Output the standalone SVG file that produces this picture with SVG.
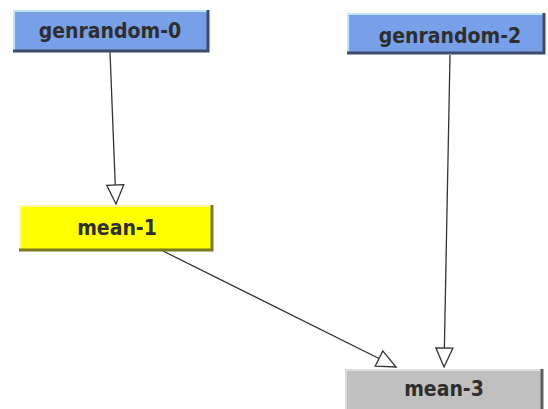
<svg xmlns="http://www.w3.org/2000/svg" width="548" height="409" viewBox="0 0 548 409">
  <style>
    .label { font-family: "DejaVu Sans Condensed", "DejaVu Sans", "Liberation Sans", sans-serif; font-stretch: condensed; font-weight: bold; font-size: 21px; fill: #2e2e2e; text-anchor: middle; }
    .edge { stroke: #333; stroke-width: 1.3; fill: none; }
    .hi { fill: none; stroke-width: 2; }
    .sh { fill: none; stroke-width: 3; }
  </style>
  <defs>
    <marker id="hollow" markerUnits="userSpaceOnUse" markerWidth="24" markerHeight="24" refX="20" refY="9" orient="auto" viewBox="0 0 24 18">
      <path d="M1,0.5 L20,9 L1,17.5 Z" fill="#fff" stroke="#333" stroke-width="1.3"/>
    </marker>
  </defs>
  <rect width="548" height="409" fill="#fff"/>

  <g id="connectors">
    <line class="edge" x1="110" y1="52" x2="116" y2="204" marker-end="url(#hollow)"/>
    <line class="edge" x1="450" y1="55" x2="444" y2="367" marker-end="url(#hollow)"/>
    <line class="edge" x1="163" y1="251" x2="396" y2="367" marker-end="url(#hollow)"/>
  </g>

  <g id="genrandom-0">
    <rect x="13" y="10" width="196" height="42" fill="#78a0e8"/>
    <polyline class="hi" points="14,51 14,11 208,11" stroke="#bfe6ff"/>
    <polyline class="sh" points="13,51 208,51 208,10" stroke="#3c4c6c"/>
    <text class="label" x="110" y="38">genrandom-0</text>
  </g>

  <g id="genrandom-2">
    <rect x="347" y="13" width="198" height="41" fill="#78a0e8"/>
    <polyline class="hi" points="348,53 348,14 544,14" stroke="#bfe6ff"/>
    <polyline class="sh" points="347,53 544,53 544,13" stroke="#3c4c6c"/>
    <text class="label" x="450" y="43">genrandom-2</text>
  </g>

  <g id="mean-1">
    <rect x="19" y="205" width="194" height="46" fill="#ffff00"/>
    <polyline class="hi" points="20,250 20,206 212,206" stroke="#ffff99"/>
    <polyline class="sh" points="19,250 212,250 212,205" stroke="#7a7a20"/>
    <text class="label" x="117" y="235">mean-1</text>
  </g>

  <g id="mean-3">
    <rect x="345" y="369" width="198" height="40" fill="#c0c0c0"/>
    <polyline class="hi" points="346,409 346,370 542,370" stroke="#dddddd"/>
    <polyline class="sh" points="542,369 542,409" stroke="#606060"/>
    <text class="label" x="444" y="396">mean-3</text>
  </g>
</svg>
